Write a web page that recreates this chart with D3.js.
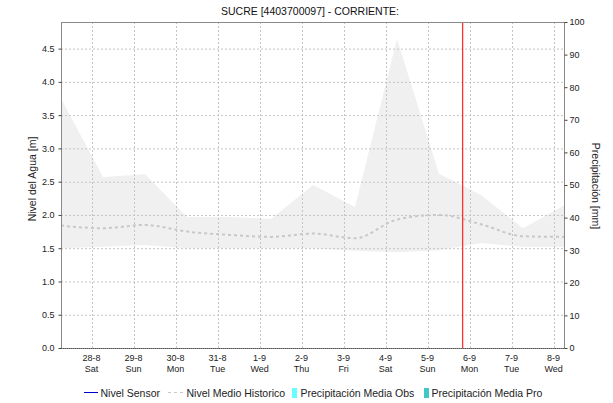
<!DOCTYPE html>
<html>
<head>
<meta charset="utf-8">
<script src="https://cdn.jsdelivr.net/npm/d3@7"></script>
<style>
  body { margin: 0; background: #fff; }
  svg { font-family: "Liberation Sans", Arial, sans-serif; }
</style>
</head>
<body>
<svg id="chart" width="613" height="403"></svg>
<script>
// ---- data ----
const title = "SUCRE [4403700097] - CORRIENTE:";
const nodeTimes = [
  "2021-08-27T06:30", "2021-08-28T06:30", "2021-08-29T06:30", "2021-08-30T06:30",
  "2021-08-31T06:30", "2021-09-01T06:30", "2021-09-02T06:30", "2021-09-03T06:30",
  "2021-09-04T06:30", "2021-09-05T06:30", "2021-09-06T06:30", "2021-09-07T06:30",
  "2021-09-08T06:30"
];
const histMax = [3.75, 2.57, 2.61, 1.97, 1.97, 1.94, 2.45, 2.12, 4.65, 2.62, 2.30, 1.80, 2.15];
const histMin = [1.50, 1.52, 1.55, 1.50, 1.50, 1.50, 1.50, 1.46, 1.44, 1.47, 1.58, 1.52, 1.52];
const histMedio = [1.84, 1.80, 1.85, 1.75, 1.70, 1.67, 1.72, 1.65, 1.93, 2.00, 1.86, 1.68, 1.67];
const nivelSensor = [];
const precipObs = [];
const precipPro = [];
const tickDates = ["2021-08-28", "2021-08-29", "2021-08-30", "2021-08-31", "2021-09-01", "2021-09-02",
  "2021-09-03", "2021-09-04", "2021-09-05", "2021-09-06", "2021-09-07", "2021-09-08"];
const tickDay = ["28-8", "29-8", "30-8", "31-8", "1-9", "2-9", "3-9", "4-9", "5-9", "6-9", "7-9", "8-9"];
const tickWeekday = ["Sat", "Sun", "Mon", "Tue", "Wed", "Thu", "Fri", "Sat", "Sun", "Mon", "Tue", "Wed"];
const nowTime = "2021-09-05T20:00";
const xDomain = ["2021-08-27T06:30", "2021-09-08T06:30"];
const leftTicks = [0, 0.5, 1.0, 1.5, 2.0, 2.5, 3.0, 3.5, 4.0, 4.5];
const rightTicks = [0, 10, 20, 30, 40, 50, 60, 70, 80, 90, 100];
const legendItems = ["Nivel Sensor", "Nivel Medio Historico", "Precipitación Media Obs", "Precipitación Media Pro"];

// ---- layout ----
const L = 61, R = 565, T = 22, B = 348;
const parse = d3.timeParse("%Y-%m-%dT%H:%M");
const parseDay = d3.timeParse("%Y-%m-%d");
const svg = d3.select("#chart");

const x = d3.scaleTime().domain(xDomain.map(parse)).range([L, R]);
const y = d3.scaleLinear().domain([0, 4.9]).range([B, T]);
const y2 = d3.scaleLinear().domain([0, 100]).range([B, T]);

const nodes = nodeTimes.map((t, i) => ({ t: parse(t), max: histMax[i], min: histMin[i], med: histMedio[i] }));

// band
svg.append("path").datum(nodes)
  .attr("d", d3.area().x(d => x(d.t)).y0(d => y(d.min)).y1(d => y(d.max)))
  .attr("fill", "#f0f0f0");

// grid
const gridColor = "#c4c4c4";
svg.append("g").selectAll("line").data(leftTicks.filter(v => v > 0)).join("line")
  .attr("x1", L).attr("x2", R).attr("y1", d => y(d) + 0.5).attr("y2", d => y(d) + 0.5)
  .attr("stroke", gridColor).attr("stroke-dasharray", "2,2");
svg.append("g").selectAll("line").data(tickDates).join("line")
  .attr("x1", d => Math.round(x(parseDay(d))) + 0.5).attr("x2", d => Math.round(x(parseDay(d))) + 0.5)
  .attr("y1", T).attr("y2", B)
  .attr("stroke", gridColor).attr("stroke-dasharray", "2,2");

// median line
svg.append("path").datum(nodes)
  .attr("d", d3.line().curve(d3.curveMonotoneX).x(d => x(d.t)).y(d => y(d.med)))
  .attr("fill", "none").attr("stroke", "#c8c8c8").attr("stroke-width", 2)
  .attr("stroke-dasharray", "3,3");

// sensor line (no data)
svg.append("path").datum(nivelSensor)
  .attr("d", d3.line().x(d => x(d.t)).y(d => y(d.v)))
  .attr("fill", "none").attr("stroke", "#0000cc");

// now line
svg.append("line")
  .attr("x1", x(parse(nowTime))).attr("x2", x(parse(nowTime)))
  .attr("y1", T).attr("y2", B)
  .attr("stroke", "#ff3030").attr("stroke-width", 1.3);

// frame
const frameColor = "#8a8a8a";
svg.append("rect").attr("x", L + 0.5).attr("y", T + 0.5).attr("width", R - L - 1).attr("height", B - T)
  .attr("fill", "none").attr("stroke", frameColor);
svg.append("line").attr("x1", L).attr("x2", R).attr("y1", B + 0.5).attr("y2", B + 0.5)
  .attr("stroke", "#555").attr("stroke-dasharray", "1,1");

// left axis
const gl = svg.append("g").attr("transform", `translate(${L + 0.5},0)`)
  .call(d3.axisLeft(y).tickValues(leftTicks).tickFormat(d3.format(".1f")).tickSize(3).tickPadding(4));
gl.select(".domain").remove();
gl.selectAll(".tick line").attr("stroke", "#444");
gl.selectAll("text").attr("font-size", 9).attr("fill", "#222").attr("font-family", "Liberation Sans, Arial, sans-serif");

// right axis
const gr = svg.append("g").attr("transform", `translate(${R - 0.5},0)`)
  .call(d3.axisRight(y2).tickValues(rightTicks).tickSize(3).tickPadding(2));
gr.select(".domain").remove();
gr.selectAll(".tick line").attr("stroke", "#444");
gr.selectAll("text").attr("font-size", 9).attr("fill", "#222").attr("font-family", "Liberation Sans, Arial, sans-serif");

// x labels
const xl = svg.append("g").selectAll("text").data(tickDates).join("text")
  .attr("x", d => x(parseDay(d)))
  .attr("text-anchor", "middle").attr("font-size", 9).attr("fill", "#222");
xl.append("tspan").attr("x", d => x(parseDay(d))).attr("y", 361).text((d, i) => tickDay[i]);
xl.append("tspan").attr("x", d => x(parseDay(d))).attr("y", 372).text((d, i) => tickWeekday[i]);

// title
svg.append("text").attr("x", 310).attr("y", 15).attr("text-anchor", "middle")
  .attr("font-size", 10.5).attr("fill", "#111").text(title);

// axis titles
svg.append("text").attr("transform", `translate(36,179) rotate(-90)`).attr("text-anchor", "middle")
  .attr("font-size", 10.5).attr("fill", "#222").text("Nivel del Agua [m]");
svg.append("text").attr("transform", `translate(592,186) rotate(90)`).attr("text-anchor", "middle")
  .attr("font-size", 10.5).attr("fill", "#222").text("Precipitación [mm]");

// legend
const lg = svg.append("g").attr("font-size", 10.5).attr("fill", "#222");
const ly = 393;
lg.append("line").attr("x1", 84).attr("x2", 98).attr("y1", ly - 0.5).attr("y2", ly - 0.5).attr("stroke", "#0000cc");
lg.append("text").attr("x", 100.5).attr("y", ly + 3.5).text(legendItems[0]);
lg.append("line").attr("x1", 168).attr("x2", 183).attr("y1", ly - 0.5).attr("y2", ly - 0.5)
  .attr("stroke", "#c8c8c8").attr("stroke-dasharray", "3,3");
lg.append("text").attr("x", 186.5).attr("y", ly + 3.5).text(legendItems[1]);
lg.append("rect").attr("x", 292).attr("y", ly - 5).attr("width", 5).attr("height", 10).attr("fill", "#66ffff");
lg.append("text").attr("x", 300.5).attr("y", ly + 3.5).text(legendItems[2]);
lg.append("rect").attr("x", 424).attr("y", ly - 5).attr("width", 5).attr("height", 10).attr("fill", "#40c8c8");
lg.append("text").attr("x", 431.5).attr("y", ly + 3.5).text(legendItems[3]);
</script>
</body>
</html>
